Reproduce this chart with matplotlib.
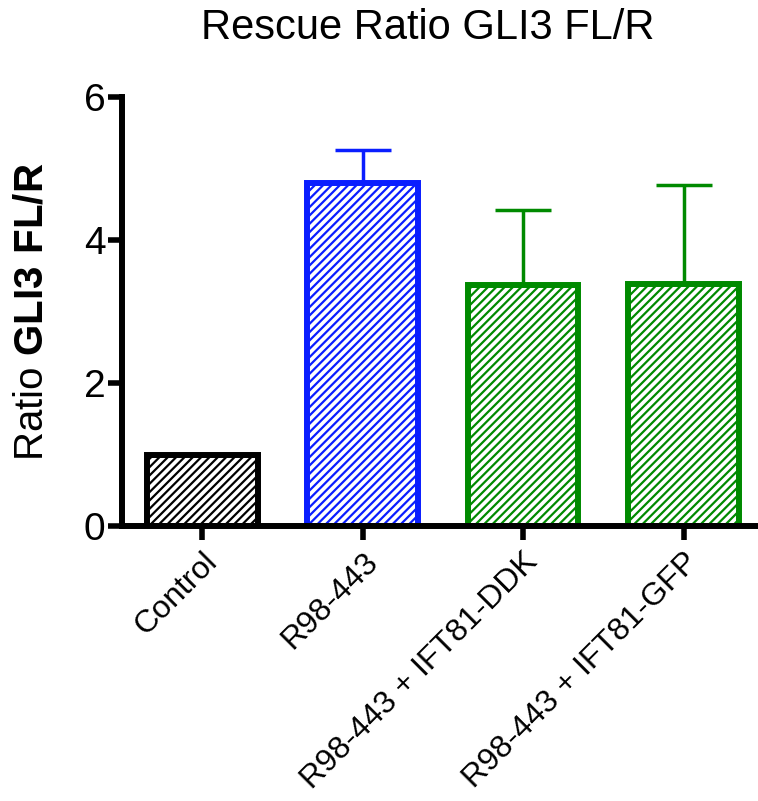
import numpy as np
import matplotlib
matplotlib.use("Agg")
import matplotlib.pyplot as plt

plt.rcParams['font.family'] = ['Liberation Sans', 'DejaVu Sans']
plt.rcParams['mathtext.fontset'] = 'custom'
plt.rcParams['mathtext.rm'] = 'Liberation Sans'
plt.rcParams['mathtext.bf'] = 'Liberation Sans:bold'
plt.rcParams['hatch.linewidth'] = 1.6

groups = ['Control', 'R98-443', 'R98-443 + IFT81-DDK', 'R98-443 + IFT81-GFP']
ratio = [1.0, 4.80, 3.37, 3.38]
sem = [0.0, 0.46, 1.05, 1.39]
colors = ['#000000', '#0a1eff', '#008a00', '#008a00']

fig = plt.figure(figsize=(7.58, 8.01), dpi=100)
ax = fig.add_axes([0.161, 0.343, 0.836, 0.536])

x = np.arange(len(groups))
for i in range(len(groups)):
    ax.bar(x[i], ratio[i], width=0.69, color='white', edgecolor=colors[i],
           linewidth=4.3, hatch='////', zorder=2)
    if sem[i] > 0:
        ax.errorbar(x[i], ratio[i], yerr=[[0], [sem[i]]], color=colors[i],
                    elinewidth=2.5, capsize=20, capthick=2.5, zorder=1)

ax.set_xlim(-0.5, 3.45)
ax.set_ylim(0, 6)
ax.set_yticks([0, 2, 4, 6])
ax.set_xticks(x)
ax.set_xticklabels(groups, rotation=45, ha='right', rotation_mode='anchor', fontsize=23)
ax.tick_params(axis='y', labelsize=28, width=4, length=10, pad=2)
ax.tick_params(axis='x', width=4, length=10, pad=5)
for s in ['top', 'right']:
    ax.spines[s].set_visible(False)
for s in ['left', 'bottom']:
    ax.spines[s].set_linewidth(4.3)

ax.set_ylabel(r'Ratio $\bf{GLI3\ FL/R}$', fontsize=29, labelpad=24)
fig.text(0.564, 0.965, 'Rescue Ratio GLI3 FL/R', fontsize=30, ha='center', va='center')

fig.savefig('out.png', dpi=100)
